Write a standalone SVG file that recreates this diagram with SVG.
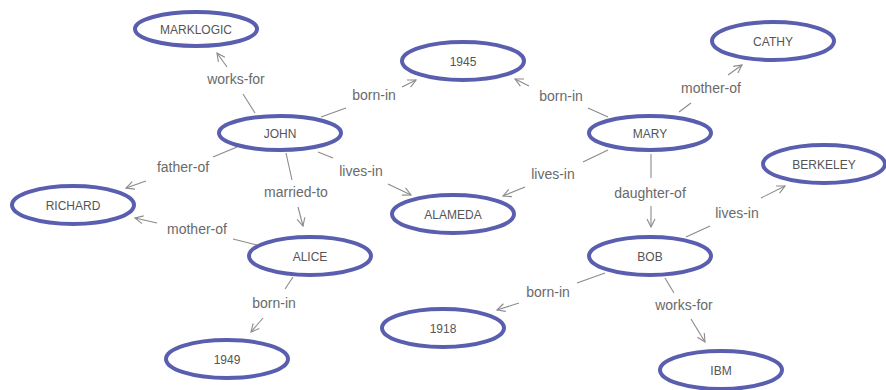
<svg xmlns="http://www.w3.org/2000/svg" width="886" height="390" viewBox="0 0 886 390">
  <style>
    .node ellipse { fill: #ffffff; stroke: #5a5eae; stroke-width: 4; }
    .node text { font-family: "Liberation Sans", Arial, sans-serif; font-size: 12px; fill: #555555; text-anchor: middle; }
    .edges line { stroke: #8a8a8a; stroke-width: 1.1; }
    .edges line.arr { marker-end: url(#arrow); }
    .edges text { font-family: "Liberation Sans", Arial, sans-serif; font-size: 14px; fill: #6a6a6a; text-anchor: middle; }
  </style>
  <defs>
    <marker id="arrow" viewBox="0 0 10 10" refX="9" refY="5" markerWidth="10" markerHeight="10" markerUnits="userSpaceOnUse" orient="auto">
      <path d="M1,1 L9,5 L1,9" fill="none" stroke="#8a8a8a" stroke-width="1.1"/>
    </marker>
  </defs>
  <rect width="886" height="390" fill="#ffffff"/>

  <!-- connectors: a line out of the source, the label, then the arrowed stub into the target -->
  <g id="edges" class="edges">
    <!-- JOHN works-for MARKLOGIC -->
    <line x1="255" y1="113" x2="243" y2="94"/>
    <text x="236" y="84">works-for</text>
    <line class="arr" x1="227" y1="67" x2="217" y2="53"/>
    <!-- JOHN born-in 1945 -->
    <line x1="321" y1="117" x2="346" y2="108"/>
    <text x="374" y="100">born-in</text>
    <line class="arr" x1="402" y1="87" x2="416" y2="80"/>
    <!-- MARY born-in 1945 -->
    <line x1="608" y1="117" x2="588" y2="108"/>
    <text x="561" y="101">born-in</text>
    <line class="arr" x1="529" y1="86" x2="515" y2="79"/>
    <!-- MARY mother-of CATHY -->
    <line x1="679" y1="112" x2="691" y2="103"/>
    <text x="711" y="93">mother-of</text>
    <line class="arr" x1="728" y1="75" x2="742" y2="65"/>
    <!-- JOHN lives-in ALAMEDA -->
    <line x1="318" y1="152" x2="333" y2="158"/>
    <text x="361" y="176">lives-in</text>
    <line class="arr" x1="388" y1="184" x2="411" y2="195"/>
    <!-- MARY lives-in ALAMEDA -->
    <line x1="608" y1="150" x2="583" y2="162"/>
    <text x="553" y="179">lives-in</text>
    <line class="arr" x1="525" y1="187" x2="503" y2="196"/>
    <!-- MARY daughter-of BOB -->
    <line x1="651" y1="154" x2="651" y2="178"/>
    <text x="650" y="198">daughter-of</text>
    <line class="arr" x1="651" y1="206" x2="651" y2="227"/>
    <!-- BOB lives-in BERKELEY -->
    <line x1="686" y1="237" x2="710" y2="226"/>
    <text x="737" y="218">lives-in</text>
    <line class="arr" x1="761" y1="198" x2="785" y2="186"/>
    <!-- BOB born-in 1918 -->
    <line x1="605" y1="273" x2="577" y2="283"/>
    <text x="548" y="297">born-in</text>
    <line class="arr" x1="519" y1="303" x2="497" y2="310"/>
    <!-- BOB works-for IBM -->
    <line x1="665" y1="278" x2="674" y2="293"/>
    <text x="684" y="310">works-for</text>
    <line class="arr" x1="691" y1="319" x2="705" y2="342"/>
    <!-- JOHN father-of RICHARD -->
    <line x1="237" y1="147" x2="213" y2="157"/>
    <text x="183" y="172">father-of</text>
    <line class="arr" x1="146" y1="181" x2="126" y2="188"/>
    <!-- JOHN married-to ALICE -->
    <line x1="286" y1="153" x2="292" y2="180"/>
    <text x="296" y="197">married-to</text>
    <line class="arr" x1="298" y1="207" x2="303" y2="226"/>
    <!-- ALICE mother-of RICHARD -->
    <line x1="257" y1="245" x2="233" y2="239"/>
    <text x="197" y="234">mother-of</text>
    <line class="arr" x1="157" y1="223" x2="135" y2="218"/>
    <!-- ALICE born-in 1949 -->
    <line x1="293" y1="277" x2="285" y2="289"/>
    <text x="274" y="308">born-in</text>
    <line class="arr" x1="263" y1="318" x2="251" y2="332"/>
  </g>

  <g id="node-marklogic" class="node"><ellipse cx="196" cy="29" rx="61" ry="17"/><text x="196" y="34">MARKLOGIC</text></g>
  <g id="node-john" class="node"><ellipse cx="280" cy="133" rx="61" ry="17"/><text x="280" y="138">JOHN</text></g>
  <g id="node-1945" class="node"><ellipse cx="463" cy="61" rx="61" ry="19"/><text x="463" y="66">1945</text></g>
  <g id="node-cathy" class="node"><ellipse cx="773" cy="41" rx="61" ry="19"/><text x="773" y="46">CATHY</text></g>
  <g id="node-mary" class="node"><ellipse cx="650" cy="133" rx="61" ry="17"/><text x="650" y="138">MARY</text></g>
  <g id="node-richard" class="node"><ellipse cx="73" cy="205" rx="61" ry="19"/><text x="73" y="210">RICHARD</text></g>
  <g id="node-alameda" class="node"><ellipse cx="453" cy="214" rx="61" ry="19"/><text x="453" y="219">ALAMEDA</text></g>
  <g id="node-berkeley" class="node"><ellipse cx="824" cy="164" rx="61" ry="19"/><text x="824" y="169">BERKELEY</text></g>
  <g id="node-alice" class="node"><ellipse cx="310" cy="256" rx="61" ry="19"/><text x="310" y="261">ALICE</text></g>
  <g id="node-bob" class="node"><ellipse cx="650" cy="256" rx="61" ry="19"/><text x="650" y="261">BOB</text></g>
  <g id="node-1918" class="node"><ellipse cx="443" cy="328" rx="61" ry="19"/><text x="443" y="333">1918</text></g>
  <g id="node-1949" class="node"><ellipse cx="227" cy="359" rx="61" ry="19"/><text x="227" y="364">1949</text></g>
  <g id="node-ibm" class="node"><ellipse cx="721" cy="370" rx="61" ry="19"/><text x="721" y="375">IBM</text></g>
</svg>
